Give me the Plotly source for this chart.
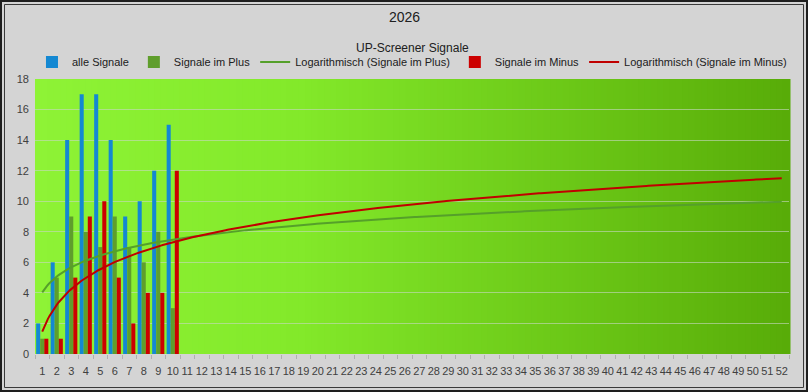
import numpy as np
import plotly.graph_objects as go

weeks = list(range(1, 53))
weeks_data = list(range(1, 11))
alle_signale = [2, 6, 14, 17, 17, 14, 9, 10, 12, 15]
signale_plus = [1, 5, 9, 8, 7, 9, 7, 6, 8, 3]
signale_minus = [1, 1, 5, 9, 10, 5, 2, 4, 4, 12]
y_ticks = list(range(0, 19, 2))

W, H = 808, 392
L, R, T, B = 35, 789, 79, 354

# logarithmic trend lines (least squares fit of y = a*ln(x) + b, as in Excel)
xl = np.log(np.array(weeks_data, dtype=float))
a_p, b_p = np.polyfit(xl, np.array(signale_plus, float), 1)
a_m, b_m = np.polyfit(xl, np.array(signale_minus, float), 1)
xt = np.linspace(1, 52, 400)
trend_plus = a_p * np.log(xt) + b_p
trend_minus = a_m * np.log(xt) + b_m

fig = go.Figure()
fig.add_trace(go.Bar(x=weeks_data, y=alle_signale, name="alle Signale",
                     marker=dict(color="#1488d2", line=dict(width=0))))
fig.add_trace(go.Bar(x=weeks_data, y=signale_plus, name="Signale im Plus",
                     marker=dict(color="#5f9e2c", line=dict(width=0))))
fig.add_trace(go.Scatter(x=xt, y=trend_plus, name="Logarithmisch (Signale im Plus)",
                         mode="lines", line=dict(color="#55a02a", width=2)))
fig.add_trace(go.Bar(x=weeks_data, y=signale_minus, name="Signale im Minus",
                     marker=dict(color="#cc0000", line=dict(width=0))))
fig.add_trace(go.Scatter(x=xt, y=trend_minus, name="Logarithmisch (Signale im Minus)",
                         mode="lines", line=dict(color="#c00000", width=2)))

# gradient plot background
shapes = []
n = 120
stops = [(0.0, (142, 243, 54)), (0.35, (131, 233, 42)), (1.0, (88, 172, 8))]
def col(t):
    for (t0, c0), (t1, c1) in zip(stops[:-1], stops[1:]):
        if t <= t1:
            f = (t - t0) / (t1 - t0)
            return "rgb(%d,%d,%d)" % tuple(round(c0[i] + (c1[i] - c0[i]) * f) for i in range(3))
    return "rgb(%d,%d,%d)" % stops[-1][1]
for i in range(n):
    shapes.append(dict(type="rect", xref="x domain", yref="y domain",
                       x0=i / n, x1=(i + 1) / n + 0.002, y0=0, y1=1,
                       fillcolor=col((i + 0.5) / n), line=dict(width=0), layer="below"))

def px(x):
    return (x - L) / (R - L)
def py(y):
    return (B - y) / (B - T)
shapes.append(dict(type="rect", xref="paper", yref="paper",
                   x0=px(1), x1=px(807), y0=py(1), y1=py(391),
                   line=dict(color="#1e1e1e", width=2), layer="above"))
shapes.append(dict(type="rect", xref="paper", yref="paper",
                   x0=px(4.5), x1=px(803.5), y0=py(4.5), y1=py(387.5),
                   line=dict(color="#3a3a3a", width=1), layer="above"))

fig.update_layout(
    width=W, height=H,
    margin=dict(l=L, r=W - R, t=T, b=H - B),
    paper_bgcolor="#d4d4d4",
    plot_bgcolor="rgba(0,0,0,0)",
    font=dict(family="Liberation Sans, Arial, sans-serif", size=11, color="#404040"),
    barmode="group", bargap=0.16, bargroupgap=0.0,
    shapes=shapes,
    showlegend=True,
    legend=dict(orientation="h", x=-0.004, xanchor="left", y=py(62), yanchor="middle",
                bgcolor="rgba(0,0,0,0)", font=dict(size=11, color="#202020"),
                traceorder="normal", itemwidth=30, borderwidth=0),
    annotations=[
        dict(text="2026", xref="paper", yref="paper", x=px(404), y=py(17),
             xanchor="center", yanchor="middle",
             showarrow=False, font=dict(size=14, color="#202020")),
        dict(text="UP-Screener Signale", xref="paper", yref="paper", x=px(412), y=py(48),
             xanchor="center", yanchor="middle",
             showarrow=False, font=dict(size=12, color="#202020")),
    ],
)
fig.update_xaxes(range=[0.5, 52.5], tickmode="array", tickvals=weeks,
                 ticktext=[str(w) for w in weeks], ticks="", showgrid=False,
                 zeroline=False, showline=False, tickfont=dict(size=11, color="#404040"),
                 ticklabelstandoff=9,
                 minor=dict(tick0=0.5, dtick=1, ticks="outside", ticklen=4,
                            tickcolor="#b0b0b0", showgrid=False))
fig.update_yaxes(range=[0, 18], tickvals=y_ticks, showgrid=True,
                 gridcolor="rgba(200,215,195,0.6)", gridwidth=1, zeroline=False,
                 showline=False, ticks="", tickfont=dict(size=11, color="#404040"),
                 ticklabelstandoff=5)

fig.write_html("out.html", config={"displayModeBar": False},
               post_script="document.body.style.margin='0px';")
